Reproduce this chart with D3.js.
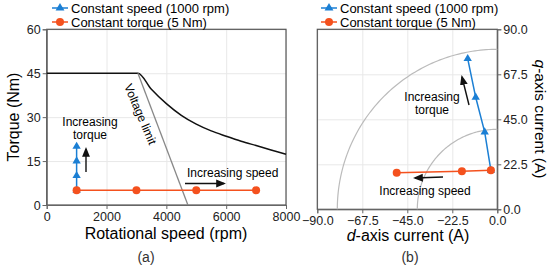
<!DOCTYPE html>
<html>
<head>
<meta charset="utf-8">
<script src="https://cdn.jsdelivr.net/npm/d3@7"></script>
<style>
  body { margin: 0; background: #fff; }
  svg { font-family: "Liberation Sans", Arial, sans-serif; }
  .axis path, .axis line { stroke: #666; }
  .axis text { font-size: 12.5px; fill: #222; }
  .grid line { stroke: #e8e8e8; }
  .grid path { display: none; }
</style>
</head>
<body>
<svg id="chart" width="550" height="267"></svg>
<script>
// (a) torque vs speed
var speedTicks = [0, 2000, 4000, 6000, 8000]
var torqueTicks = [0, 15, 30, 45, 60]
var maxTorque = [[0, 45], [3050, 45], [3500, 39.5], [4000, 34.6], [4500, 30.6], [5000, 27.6],
  [5500, 25.3], [6000, 23.5], [6500, 21.8], [7000, 20.3], [7500, 18.8], [8000, 17.3]]
var voltageLimit = [[3050, 45], [4720, 0]]
var constSpeedA = [[1000, 5], [1000, 10], [1000, 15], [1000, 20]]
var constTorqueA = [[1000, 5], [3000, 5], [5000, 5], [7000, 5]]

// (b) dq currents
var dTicks = [-90, -67.5, -45, -22.5, 0]
var qTicks = [0, 22.5, 45, 67.5, 90]
var currentLimitR = 80
var smallCircleR = 40
var constSpeedB = [[-3.2, 19.5], [-6.3, 38.6], [-10.8, 56], [-14.8, 75.3]]
var constTorqueB = [[-3.2, 19.5], [-17.7, 19], [-50.3, 18.3]]

var blue = "#1b7fd4", orange = "#f4511e"

var svg = d3.select("#chart")

// ---------- left panel ----------
var xA = d3.scaleLinear().domain([0, 8000]).range([46.7, 286])
var yA = d3.scaleLinear().domain([0, 60]).range([205, 29.3])
var gA = svg.append("g")

gA.append("g").attr("class", "grid")
  .attr("transform", "translate(0,205)")
  .call(d3.axisBottom(xA).tickValues(speedTicks).tickSize(-(205 - 29.3)).tickFormat(""))
gA.append("g").attr("class", "grid")
  .attr("transform", "translate(46.7,0)")
  .call(d3.axisLeft(yA).tickValues(torqueTicks).tickSize(-(286 - 46.7)).tickFormat(""))

gA.append("rect").attr("x", 46.7).attr("y", 29.3).attr("width", 286 - 46.7).attr("height", 205 - 29.3)
  .attr("fill", "none").attr("stroke", "#555").attr("stroke-width", 1.2)

gA.append("g").attr("class", "axis")
  .attr("transform", "translate(0,205)")
  .call(d3.axisBottom(xA).tickValues(speedTicks).tickSize(4).tickPadding(3).tickFormat(d3.format("d")))
gA.append("g").attr("class", "axis")
  .attr("transform", "translate(46.7,0)")
  .call(d3.axisLeft(yA).tickValues(torqueTicks).tickSize(4).tickPadding(2))

var lineA = d3.line().x(function(d) { return xA(d[0]) }).y(function(d) { return yA(d[1]) })

gA.append("path").datum(maxTorque).attr("d", d3.line().x(function(d) { return xA(d[0]) }).y(function(d) { return yA(d[1]) }).curve(d3.curveMonotoneX))
  .attr("fill", "none").attr("stroke", "#111").attr("stroke-width", 1.5)
gA.append("path").datum(voltageLimit).attr("d", lineA)
  .attr("fill", "none").attr("stroke", "#888").attr("stroke-width", 1.3)

gA.append("path").datum(constSpeedA).attr("d", lineA).attr("fill", "none").attr("stroke", blue).attr("stroke-width", 1.5)
gA.selectAll(".triA").data(constSpeedA).enter().append("path")
  .attr("d", d3.symbol().type(d3.symbolTriangle).size(30))
  .attr("transform", function(d) { return "translate(" + xA(d[0]) + "," + yA(d[1]) + ")" })
  .attr("fill", blue)
gA.append("path").datum(constTorqueA).attr("d", lineA).attr("fill", "none").attr("stroke", orange).attr("stroke-width", 1.5)
gA.selectAll(".dotA").data(constTorqueA).enter().append("circle")
  .attr("cx", function(d) { return xA(d[0]) }).attr("cy", function(d) { return yA(d[1]) })
  .attr("r", 4).attr("fill", orange)

// annotations a
gA.append("text").attr("x", 90).attr("y", 126).attr("text-anchor", "middle").attr("font-size", 12).text("Increasing")
gA.append("text").attr("x", 90).attr("y", 139).attr("text-anchor", "middle").attr("font-size", 12).text("torque")
gA.append("text").attr("x", 187).attr("y", 177).attr("font-size", 12).text("Increasing speed")
gA.append("text").attr("transform", "translate(124,86) rotate(67)").attr("font-size", 12).text("Voltage limit")

var defs = svg.append("defs")
defs.append("marker").attr("id", "arr").attr("viewBox", "0 0 10 10").attr("refX", 8).attr("refY", 5)
  .attr("markerWidth", 7).attr("markerHeight", 7).attr("orient", "auto")
  .append("path").attr("d", "M0,1 L10,5 L0,9 z").attr("fill", "#111")

function arrow(g, x1, y1, x2, y2) {
  g.append("line").attr("x1", x1).attr("y1", y1).attr("x2", x2).attr("y2", y2)
    .attr("stroke", "#111").attr("stroke-width", 1.4).attr("marker-end", "url(#arr)")
}
arrow(gA, 86, 172, 86, 149)
arrow(gA, 185, 183.5, 224, 183.5)

gA.append("text").attr("x", 166).attr("y", 239).attr("text-anchor", "middle").attr("font-size", 16).text("Rotational speed (rpm)")
gA.append("text").attr("transform", "translate(19,117) rotate(-90)").attr("text-anchor", "middle").attr("font-size", 16).text("Torque (Nm)")
gA.append("text").attr("x", 146).attr("y", 262).attr("text-anchor", "middle").attr("font-size", 14).attr("fill", "#333").text("(a)")

// ---------- right panel ----------
var xB = d3.scaleLinear().domain([-90, 0]).range([317.3, 497.3])
var yB = d3.scaleLinear().domain([0, 90]).range([209.3, 29.3])
var gB = svg.append("g")

gB.append("g").attr("class", "grid")
  .attr("transform", "translate(0,209.3)")
  .call(d3.axisBottom(xB).tickValues(dTicks).tickSize(-180).tickFormat(""))
gB.append("g").attr("class", "grid")
  .attr("transform", "translate(317.3,0)")
  .call(d3.axisLeft(yB).tickValues(qTicks).tickSize(-180).tickFormat(""))

gB.append("rect").attr("x", 317.3).attr("y", 29.3).attr("width", 180).attr("height", 180)
  .attr("fill", "none").attr("stroke", "#555").attr("stroke-width", 1.2)

gB.append("g").attr("class", "axis")
  .attr("transform", "translate(0,209.3)")
  .call(d3.axisBottom(xB).tickValues(dTicks).tickSize(4).tickPadding(3).tickFormat(d3.format(".1f")))
gB.append("g").attr("class", "axis")
  .attr("transform", "translate(497.3,0)")
  .call(d3.axisRight(yB).tickValues(qTicks).tickSize(4).tickPadding(2).tickFormat(d3.format(".1f")))

// limit circles drawn as quarter arcs
function quarter(r) {
  return d3.range(0, 91).map(function(a) {
    var t = a * Math.PI / 180
    return [-r * Math.cos(t), r * Math.sin(t)]
  })
}
var lineB = d3.line().x(function(d) { return xB(d[0]) }).y(function(d) { return yB(d[1]) })
gB.append("path").datum(quarter(currentLimitR)).attr("d", lineB).attr("fill", "none").attr("stroke", "#bbb").attr("stroke-width", 1.2)
gB.append("path").datum(quarter(smallCircleR)).attr("d", lineB).attr("fill", "none").attr("stroke", "#bbb").attr("stroke-width", 1.2)

gB.append("path").datum(constSpeedB).attr("d", lineB).attr("fill", "none").attr("stroke", blue).attr("stroke-width", 1.5)
gB.selectAll(".triB").data(constSpeedB).enter().append("path")
  .attr("d", d3.symbol().type(d3.symbolTriangle).size(30))
  .attr("transform", function(d) { return "translate(" + xB(d[0]) + "," + yB(d[1]) + ")" })
  .attr("fill", blue)
gB.append("path").datum(constTorqueB).attr("d", lineB).attr("fill", "none").attr("stroke", orange).attr("stroke-width", 1.5)
gB.selectAll(".dotB").data(constTorqueB).enter().append("circle")
  .attr("cx", function(d) { return xB(d[0]) }).attr("cy", function(d) { return yB(d[1]) })
  .attr("r", 4).attr("fill", orange)

gB.append("text").attr("x", 432).attr("y", 101).attr("text-anchor", "middle").attr("font-size", 12).text("Increasing")
gB.append("text").attr("x", 432).attr("y", 114).attr("text-anchor", "middle").attr("font-size", 12).text("torque")
gB.append("text").attr("x", 425).attr("y", 195).attr("text-anchor", "middle").attr("font-size", 12).text("Increasing speed")
arrow(gB, 469, 105, 462, 77)
arrow(gB, 443, 177, 415, 178)

var dl = gB.append("text").attr("x", 408).attr("y", 241).attr("text-anchor", "middle").attr("font-size", 16)
dl.append("tspan").attr("font-style", "italic").text("d")
dl.append("tspan").text("-axis current (A)")
var ql = gB.append("text").attr("transform", "translate(535,119) rotate(90)").attr("text-anchor", "middle").attr("font-size", 15.5)
ql.append("tspan").attr("font-style", "italic").text("q")
ql.append("tspan").text("-axis current (A)")
gB.append("text").attr("x", 410).attr("y", 262).attr("text-anchor", "middle").attr("font-size", 14).attr("fill", "#333").text("(b)")

// ---------- legends ----------
var legendItems = ["Constant speed (1000 rpm)", "Constant torque (5 Nm)"]
function legend(x0) {
  var lg = svg.append("g").attr("transform", "translate(" + x0 + ",0)")
  legendItems.forEach(function(name, i) {
    var y = 8 + i * 14
    var c = i === 0 ? blue : orange
    lg.append("line").attr("x1", 0).attr("x2", 16).attr("y1", y).attr("y2", y).attr("stroke", c).attr("stroke-width", 1.5)
    if (i === 0) {
      lg.append("path").attr("d", d3.symbol().type(d3.symbolTriangle).size(34)).attr("transform", "translate(8," + y + ")").attr("fill", c)
    } else {
      lg.append("circle").attr("cx", 8).attr("cy", y).attr("r", 4).attr("fill", c)
    }
    lg.append("text").attr("x", 19).attr("y", y + 4.5).attr("font-size", 13).text(name)
  })
}
legend(52)
legend(321)
</script>
</body>
</html>
